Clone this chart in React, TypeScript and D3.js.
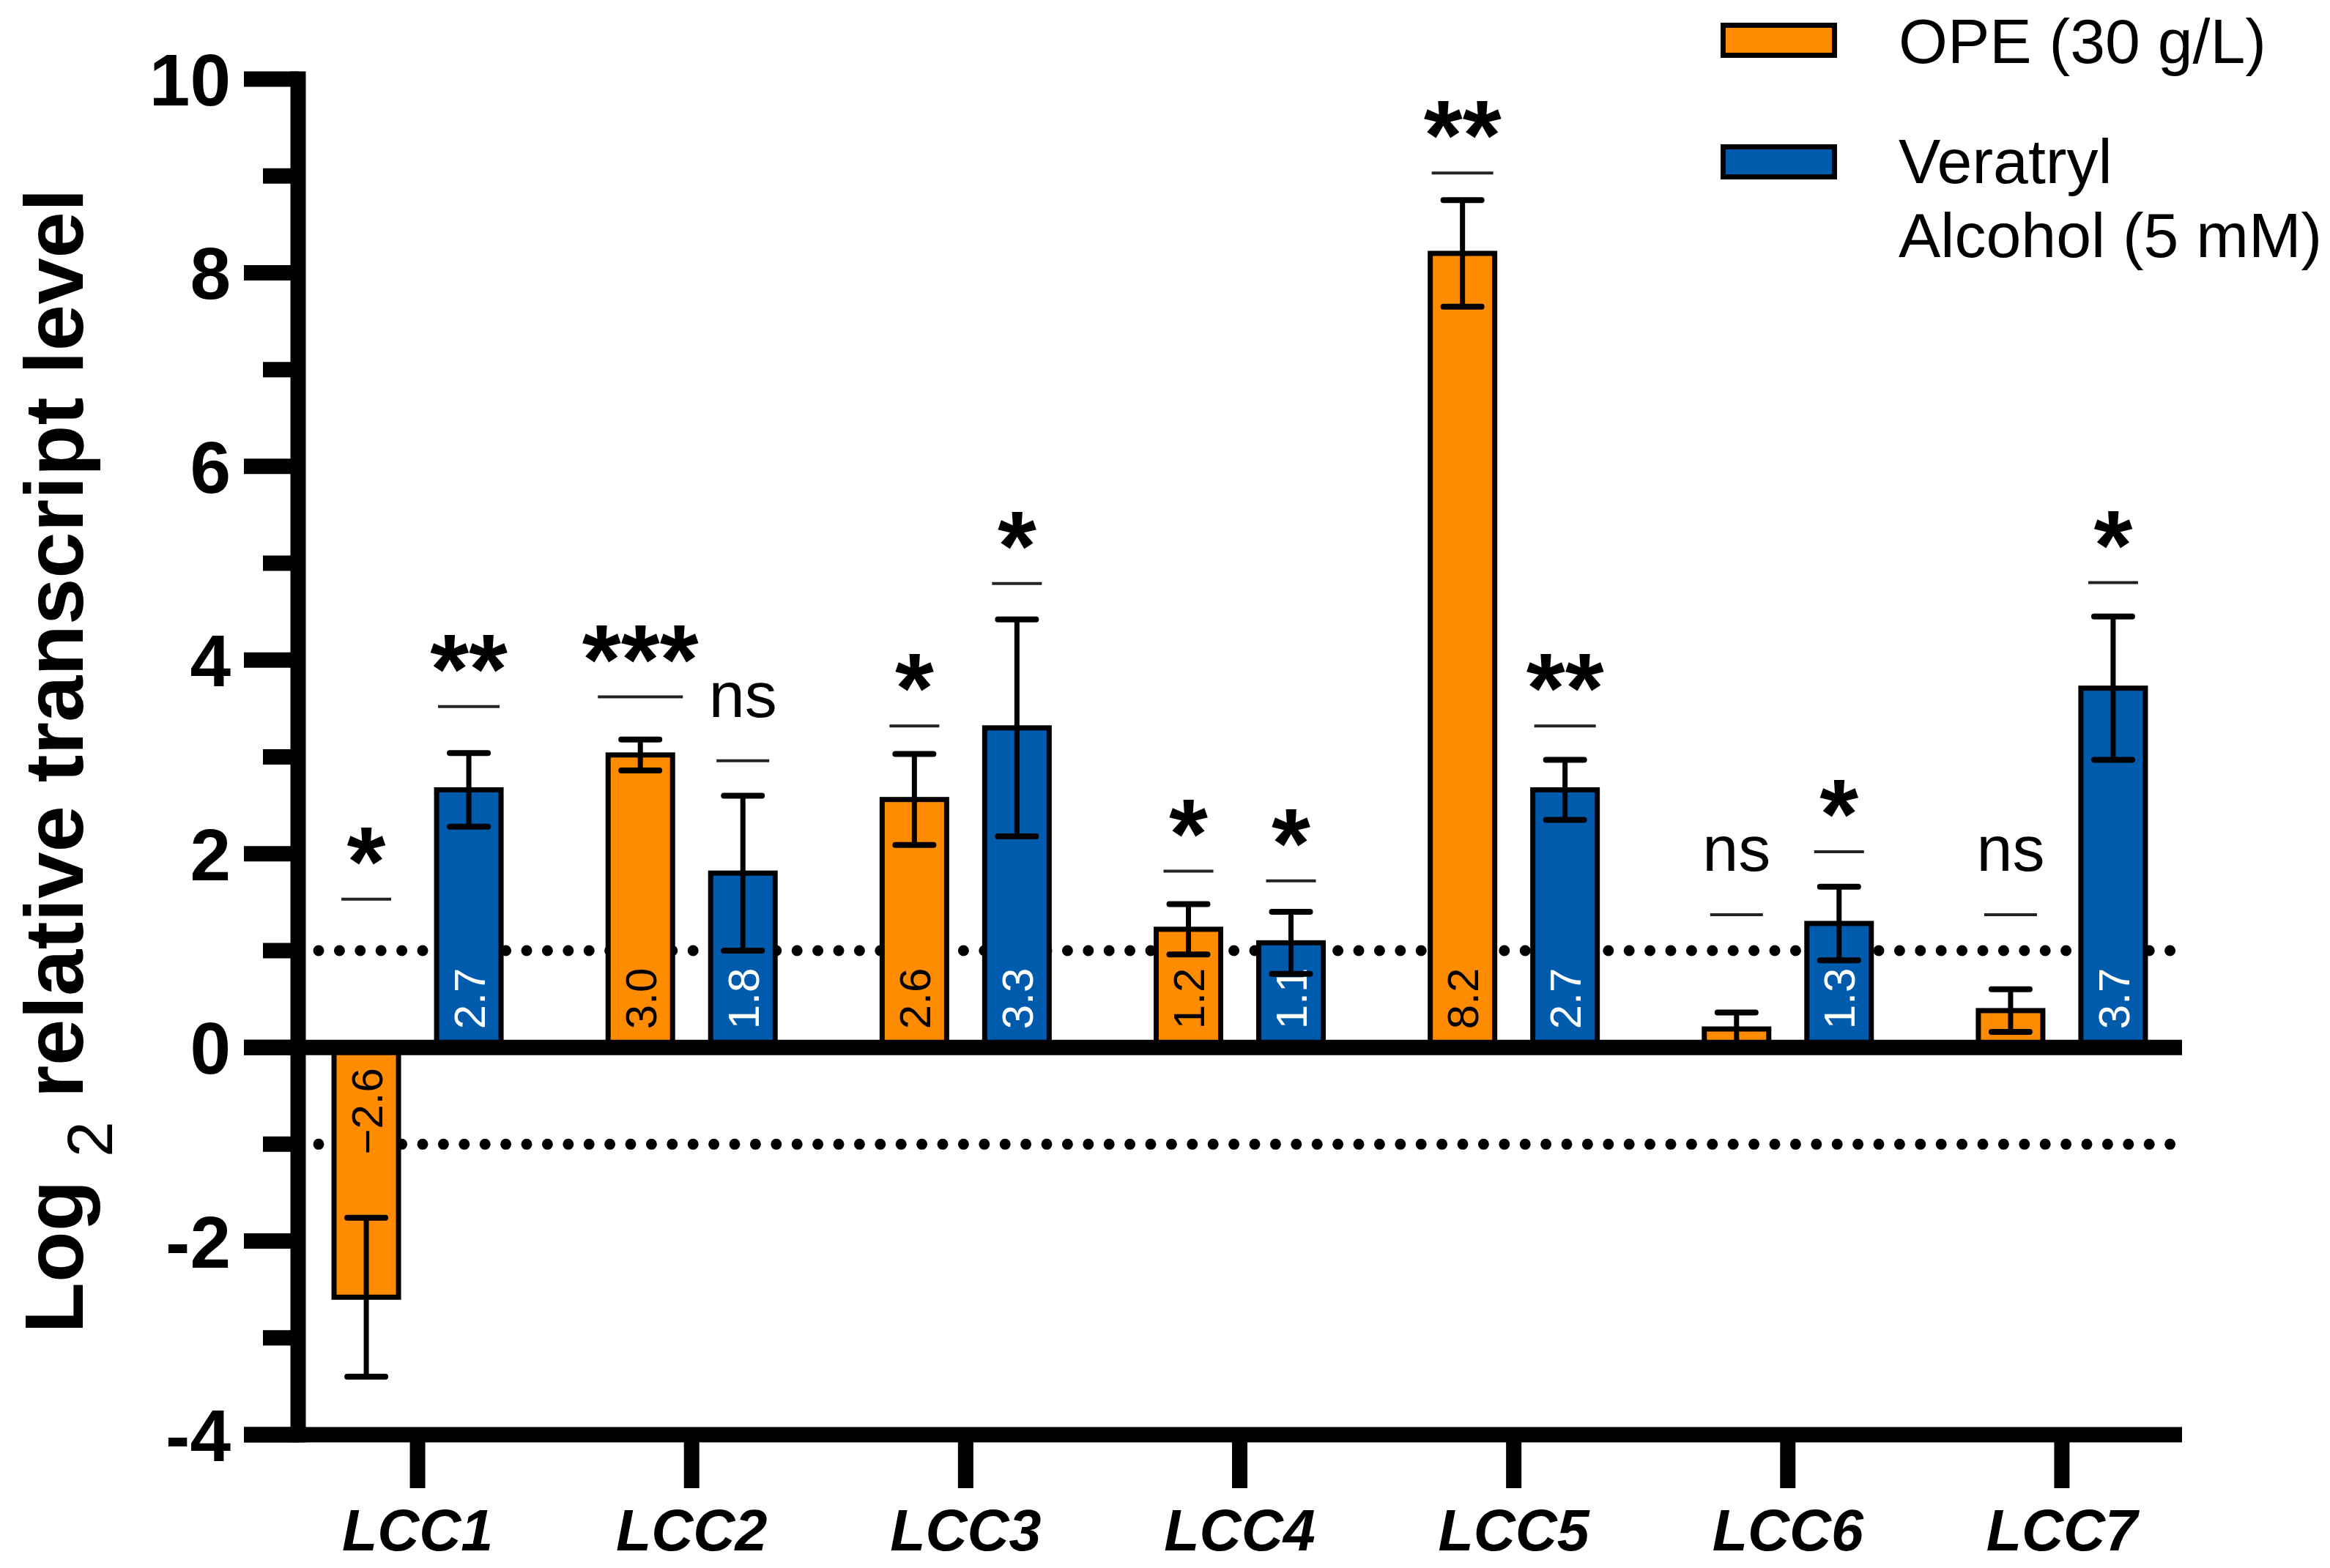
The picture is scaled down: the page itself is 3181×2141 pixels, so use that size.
import React from 'react';
import * as d3 from 'd3';

const genes = ['LCC1', 'LCC2', 'LCC3', 'LCC4', 'LCC5', 'LCC6', 'LCC7'];
const seriesNames = ['OPE (30 g/L)', 'Veratryl Alcohol (5 mM)'];

// log2 relative transcript level, mean and error
const opeMean = [-2.58, 3.02, 2.56, 1.22, 8.2, 0.19, 0.38];
const opeErr = [0.82, 0.16, 0.47, 0.26, 0.55, 0.17, 0.22];
const vaMean = [2.66, 1.8, 3.3, 1.08, 2.66, 1.28, 3.71];
const vaErr = [0.38, 0.8, 1.12, 0.32, 0.31, 0.38, 0.74];

// significance marks and the level of the little line under them
const opeSig = ['*', '***', '*', '*', '**', 'ns', 'ns'];
const opeSigLevel = [1.53, 3.62, 3.32, 1.82, 9.03, 1.37, 1.37];
const vaSig = ['**', 'ns', '*', '*', '**', '*', '*'];
const vaSigLevel = [3.52, 2.96, 4.79, 1.72, 3.32, 2.02, 4.8];

const yTicks = [-4, -2, 0, 2, 4, 6, 8, 10];
const yMinor = [-3, -1, 1, 3, 5, 7, 9];
const thresholds = [1, -1];

const W = 3181;
const H = 2141;
const FONT = '"Liberation Sans", Arial, Helvetica, sans-serif';
const colors = ['#FF8C00', '#005BAC'];
const labelColors = ['#000', '#fff'];

const App: React.FC = () => {
  const axisX = 407;
  const axisRight = 2979;

  const y = d3.scaleLinear().domain([-4, 10]).range([1959, 108]);
  const x0 = d3.scaleBand<string>().domain(genes).range([383, 3002]).padding(0);
  const x1 = d3
    .scaleBand<number>()
    .domain([0, 1])
    .range([-114, 114])
    .paddingInner(0.3714)
    .paddingOuter(0);

  const fmt = d3.format('.1f');
  const series = [
    { mean: opeMean, err: opeErr, sig: opeSig, level: opeSigLevel },
    { mean: vaMean, err: vaErr, sig: vaSig, level: vaSigLevel },
  ];
  const sigWidth: Record<string, number> = { '*': 68, '**': 84, '***': 116, ns: 72 };

  const cx = (g: number, s: number) =>
    (x0(genes[g]) as number) + x0.bandwidth() / 2 + (x1(s) as number) + x1.bandwidth() / 2;

  const y0 = y(0);

  return (
    <svg
      width={W}
      height={H}
      viewBox={`0 0 ${W} ${H}`}
      style={{ position: 'absolute', left: 0, top: 0, background: '#fff' }}
      fontFamily={FONT}
    >
      <rect width={W} height={H} fill="#fff" />

      {/* dotted threshold lines */}
      {thresholds.map((t) => (
        <line
          key={t}
          x1={435}
          x2={2976}
          y1={y(t)}
          y2={y(t)}
          stroke="#000"
          strokeWidth={15}
          strokeLinecap="round"
          strokeDasharray="0 28.4"
        />
      ))}

      {/* bars */}
      {series.map((s, si) =>
        genes.map((g, gi) => {
          const v = s.mean[gi];
          const top = y(Math.max(v, 0));
          const bot = y(Math.min(v, 0));
          return (
            <rect
              key={`b${si}${gi}`}
              x={cx(gi, si) - x1.bandwidth() / 2}
              y={top}
              width={x1.bandwidth()}
              height={bot - top}
              fill={colors[si]}
              stroke="#000"
              strokeWidth={7}
            />
          );
        })
      )}

      {/* value labels inside bars */}
      {series.map((s, si) =>
        genes.map((g, gi) => {
          const v = s.mean[gi];
          if (Math.abs(v) < 0.8) return null;
          const px = cx(gi, si);
          const py = v >= 0 ? y0 - 25 : y0 + 28;
          return (
            <text
              key={`l${si}${gi}`}
              transform={`translate(${px},${py}) rotate(-90)`}
              textAnchor={v >= 0 ? 'start' : 'end'}
              dy="0.36em"
              fontSize={60}
              fill={labelColors[si]}
            >
              {fmt(v)}
            </text>
          );
        })
      )}

      {/* error bars */}
      {series.map((s, si) =>
        genes.map((g, gi) => {
          const px = cx(gi, si);
          const hi = y(s.mean[gi] + s.err[gi]);
          const lo = y(s.mean[gi] - s.err[gi]);
          return (
            <g key={`e${si}${gi}`} stroke="#000" strokeLinecap="round">
              <line x1={px} x2={px} y1={hi} y2={lo} strokeWidth={7} />
              <line x1={px - 26} x2={px + 26} y1={hi} y2={hi} strokeWidth={8} />
              <line x1={px - 26} x2={px + 26} y1={lo} y2={lo} strokeWidth={8} />
            </g>
          );
        })
      )}

      {/* significance marks */}
      {series.map((s, si) =>
        genes.map((g, gi) => {
          const px = cx(gi, si);
          const ly = y(s.level[gi]);
          const mark = s.sig[gi];
          const w = sigWidth[mark];
          const isNs = mark === 'ns';
          return (
            <g key={`s${si}${gi}`}>
              <line x1={px - w / 2} x2={px + w / 2} y1={ly} y2={ly} stroke="#222" strokeWidth={4} />
              <text
                x={px}
                y={isNs ? ly - 60 : ly - 5}
                textAnchor="middle"
                fontSize={isNs ? 88 : 136}
                fontWeight={isNs ? 400 : 700}
              >
                {mark}
              </text>
            </g>
          );
        })
      )}

      {/* zero line */}
      <line x1={333} x2={axisRight} y1={y0} y2={y0} stroke="#000" strokeWidth={21} />

      {/* y axis */}
      <line x1={axisX} x2={axisX} y1={y(10)} y2={y(-4)} stroke="#000" strokeWidth={21} strokeLinecap="square" />
      {yTicks.map((t) => (
        <g key={`yt${t}`}>
          <line x1={333} x2={axisX} y1={y(t)} y2={y(t)} stroke="#000" strokeWidth={21} />
          <text x={315} y={y(t)} dy="0.36em" textAnchor="end" fontSize={100} fontWeight={700}>
            {t}
          </text>
        </g>
      ))}
      {yMinor.map((t) => (
        <line key={`ym${t}`} x1={359} x2={axisX} y1={y(t)} y2={y(t)} stroke="#000" strokeWidth={21} />
      ))}

      {/* x axis */}
      <line x1={333} x2={axisRight} y1={y(-4)} y2={y(-4)} stroke="#000" strokeWidth={21} />
      {genes.map((g) => {
        const gx = (x0(g) as number) + x0.bandwidth() / 2;
        return (
          <g key={`xt${g}`}>
            <line x1={gx} x2={gx} y1={y(-4)} y2={2032} stroke="#000" strokeWidth={21} />
            <text x={gx} y={2117} textAnchor="middle" fontSize={79} fontWeight={700} fontStyle="italic">
              {g}
            </text>
          </g>
        );
      })}

      {/* y axis title */}
      <text transform="translate(113,1039) rotate(-90)" textAnchor="middle" fontSize={114} fontWeight={700}>
        <tspan>Log </tspan>
        <tspan fontSize={88} fontWeight={400} dy={40}>
          2
        </tspan>
        <tspan dy={-40}> relative transcript level</tspan>
      </text>

      {/* legend */}
      {seriesNames.map((n, i) => {
        const sy = i === 0 ? 34.5 : 200.5;
        return (
          <rect
            key={`lg${i}`}
            x={2352.5}
            y={sy}
            width={152}
            height={41}
            fill={colors[i]}
            stroke="#000"
            strokeWidth={7}
          />
        );
      })}
      <text x={2592} y={86} fontSize={86}>
        {seriesNames[0]}
      </text>
      <text x={2592} y={250} fontSize={86}>
        <tspan x={2592}>Veratryl</tspan>
        <tspan x={2592} dy={101}>
          Alcohol (5 mM)
        </tspan>
      </text>
    </svg>
  );
};

export default App;
